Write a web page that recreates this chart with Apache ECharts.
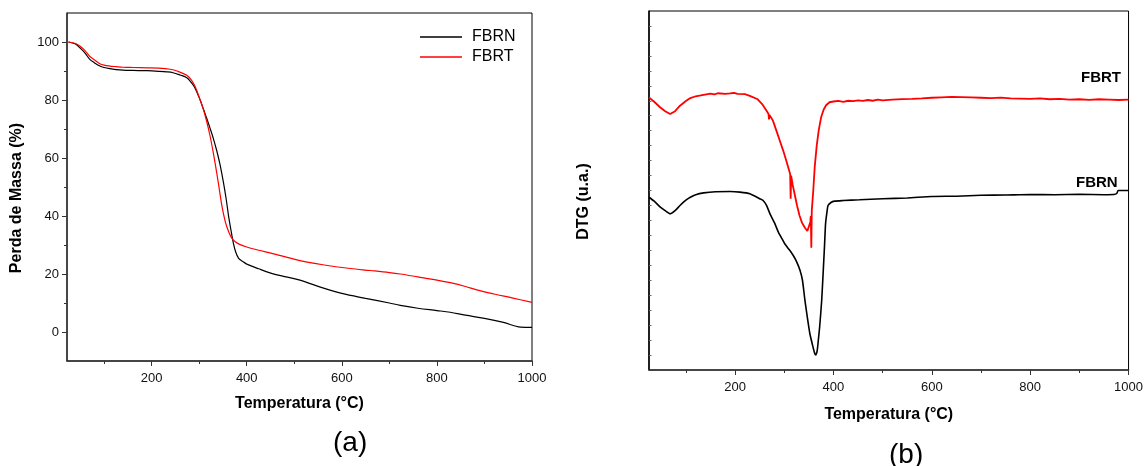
<!DOCTYPE html>
<html>
<head>
<meta charset="utf-8">
<script src="https://cdn.jsdelivr.net/npm/echarts@6/dist/echarts.min.js"></script>
<style>
html,body{margin:0;padding:0;background:#fff;}
#chart{width:1146px;height:466px;}
</style>
</head>
<body>
<div id="chart"></div>
<script>
// ---- (a) TGA: mass loss (%) vs temperature (°C) ----
var tgaTempFBRN = [25, 40, 49, 60, 70, 80, 91, 100, 112, 125, 140, 161, 190, 215, 232, 245, 260, 274, 281, 290, 302, 309, 316, 323, 330, 337, 344, 351, 357, 362, 367, 372, 377, 383, 390, 400, 425, 449, 480, 512, 560, 600, 650, 700, 723, 760, 800, 828, 860, 900, 940, 976, 1000];
var tgaMassFBRN = [100, 99.3, 98, 96.2, 94, 92.8, 91.7, 91.2, 90.8, 90.5, 90.3, 90.2, 90.1, 89.9, 89.7, 89.4, 88.6, 87.7, 86.5, 84.5, 80, 76.8, 73.6, 70.2, 66.6, 62.5, 57.6, 51.6, 45.6, 39.8, 35, 30.6, 27.5, 25.4, 24.5, 23.4, 21.8, 20.4, 19.1, 17.9, 15.2, 13.3, 11.6, 10.0, 9.2, 8.2, 7.4, 6.8, 5.8, 4.7, 3.3, 1.7, 1.6];
var tgaTempFBRT = [25, 40, 49, 60, 70, 80, 91, 100, 112, 125, 140, 161, 190, 215, 239, 255, 274, 283, 291, 300, 309, 316, 323, 330, 337, 343, 348, 355, 362, 369, 376, 385, 400, 425, 449, 480, 512, 560, 618, 660, 700, 723, 760, 800, 828, 860, 884, 920, 960, 1000];
var tgaMassFBRT = [100, 99.5, 98.6, 97, 95, 93.8, 92.5, 92.0, 91.7, 91.5, 91.3, 91.2, 91.1, 91.0, 90.6, 89.9, 88.5, 87, 84.8, 81, 76.7, 72.5, 67.5, 61.5, 54.8, 48.5, 43.3, 38.0, 34.6, 32.3, 31.1, 30.2, 29.3, 28.2, 27.3, 26.0, 24.6, 23.2, 21.9, 21.2, 20.5, 20.0, 19.0, 17.9, 17.0, 15.7, 14.5, 13.1, 11.7, 10.2];

// ---- (b) DTG (arbitrary units, offset curves) ----
var dtgTempFBRN = [25, 35, 48, 60, 68, 78, 88, 100, 109, 120, 136, 160, 190, 210, 230, 250, 257, 264, 271, 280, 288, 295, 301, 310, 318, 325, 332, 337, 342, 347, 352, 358, 362, 364, 367, 369, 372, 376, 379, 382, 384, 387, 389, 395, 402, 420, 453, 500, 550, 600, 650, 700, 750, 800, 850, 900, 950, 970, 976, 979, 1000];
var dtgFBRN = [11.55, 11.3, 10.89, 10.6, 10.44, 10.65, 11.0, 11.35, 11.55, 11.72, 11.84, 11.92, 11.93, 11.89, 11.78, 11.45, 11.33, 11.0, 10.44, 9.85, 9.22, 8.8, 8.44, 8.05, 7.67, 7.25, 6.67, 6.0, 4.67, 3.5, 2.44, 1.6, 1.1, 1.0, 1.3, 1.9, 2.89, 4.6, 6.44, 8.4, 9.78, 10.6, 11.0, 11.2, 11.29, 11.33, 11.38, 11.45, 11.5, 11.6, 11.62, 11.68, 11.7, 11.73, 11.72, 11.74, 11.72, 11.73, 11.8, 12.0, 12.0];
var dtgTempFBRT = [25, 35, 48, 58, 68, 78, 88, 100, 109, 120, 130, 136, 150, 158, 165, 180, 190, 198, 205, 220, 230, 245, 255, 264, 268, 269, 270, 277, 284, 291, 298, 304, 308, 312, 313, 314, 317, 321, 326, 331, 336, 342, 347, 350, 353, 354, 355, 356, 359, 362, 366, 370, 375, 380, 385, 392, 400, 410, 420, 430, 440, 450, 460, 470, 480, 490, 500, 520, 540, 560, 580, 600, 620, 640, 660, 680, 700, 720, 740, 760, 780, 800, 820, 840, 860, 880, 900, 920, 940, 960, 980, 1000];
var dtgFBRT = [18.22, 17.95, 17.55, 17.3, 17.11, 17.3, 17.67, 17.98, 18.18, 18.3, 18.36, 18.4, 18.47, 18.42, 18.5, 18.46, 18.49, 18.53, 18.46, 18.44, 18.33, 18.12, 17.78, 17.33, 17.11, 16.75, 17.05, 16.67, 16.0, 15.33, 14.65, 14.0, 13.55, 13.1, 11.45, 13.0, 12.4, 11.78, 11.0, 10.33, 9.85, 9.51, 9.29, 9.4, 9.9, 10.3, 8.18, 10.67, 12.0, 13.6, 15.0, 16.0, 16.9, 17.4, 17.7, 17.9, 17.95, 17.99, 17.93, 18.0, 17.97, 18.03, 17.99, 18.05, 18.0, 18.07, 18.03, 18.08, 18.11, 18.13, 18.16, 18.2, 18.23, 18.26, 18.24, 18.22, 18.2, 18.18, 18.21, 18.16, 18.14, 18.12, 18.16, 18.1, 18.13, 18.08, 18.1, 18.06, 18.1, 18.08, 18.05, 18.08];

// ---- axis ticks ----
var xMajorTicks = [200, 400, 600, 800, 1000];
var xMinorTicks = [100, 300, 500, 700, 900];
var yMajorTicksA = [0, 20, 40, 60, 80, 100];
var yMinorTicksA = [10, 30, 50, 70, 90];
var yTicksB = [1,2,3,4,5,6,7,8,9,10,11,12,13,14,15,16,17,18,19,20,21,22,23];

function zip(xs, ys){ return xs.map(function(x,i){ return [x, ys[i]]; }); }

var FONT = '"Liberation Sans", Arial, sans-serif';
var chart = echarts.init(document.getElementById('chart'), null, {renderer:'canvas'});

var axisColor = '#333';
var nameStyle = {fontFamily: FONT, fontWeight: 'bold', fontSize: 16, color: '#000'};
var yNameStyle = {fontFamily: FONT, fontWeight: 'bold', fontSize: 16, color: '#000', padding: [0, 22, 0, 0]};
function plain(v){ return String(v); }
var labelStyle = {fontFamily: FONT, fontSize: 13, color: '#111', formatter: plain};

chart.setOption({
  animation: false,
  backgroundColor: '#fff',
  grid: [
    {left: 67, top: 13, right: 614, bottom: 105, show: true, borderColor: '#000', borderWidth: 1, containLabel: false},
    {left: 649, top: 11, right: 16, bottom: 96, show: true, borderColor: '#000', borderWidth: 1, containLabel: false}
  ],
  legend: {
    data: ['FBRN', 'FBRT'],
    orient: 'vertical',
    left: 415, top: 24,
    icon: 'rect',
    itemWidth: 42, itemHeight: 1.3,
    itemGap: 4,
    textStyle: {fontFamily: FONT, fontSize: 16, color: '#000', padding: [0,0,0,5]}
  },
  xAxis: [
    {gridIndex: 0, type: 'value', position: 'bottom', min: 22, max: 1000,
     axisLine: {show: true, onZero: false, lineStyle: {color: axisColor, width: 1.5}},
     axisTick: {show: true, customValues: xMajorTicks, length: 5, lineStyle: {color: axisColor}},
     axisLabel: Object.assign({customValues: xMajorTicks, margin: 11}, labelStyle),
     splitLine: {show: false},
     name: 'Temperatura (°C)', nameLocation: 'middle', nameGap: 35, nameTextStyle: nameStyle},
    {gridIndex: 0, type: 'value', position: 'bottom', min: 22, max: 1000,
     axisLine: {show: false, onZero: false},
     axisTick: {show: true, customValues: xMinorTicks, length: 3, lineStyle: {color: axisColor}},
     axisLabel: {show: false}, splitLine: {show: false}},
    {gridIndex: 1, type: 'value', position: 'bottom', min: 25, max: 1000,
     axisLine: {show: true, onZero: false, lineStyle: {color: axisColor, width: 1.5}},
     axisTick: {show: true, customValues: xMajorTicks, length: 5, lineStyle: {color: axisColor}},
     axisLabel: Object.assign({customValues: xMajorTicks, margin: 11}, labelStyle),
     splitLine: {show: false},
     name: 'Temperatura (°C)', nameLocation: 'middle', nameGap: 37, nameTextStyle: nameStyle},
    {gridIndex: 1, type: 'value', position: 'bottom', min: 25, max: 1000,
     axisLine: {show: false, onZero: false},
     axisTick: {show: true, customValues: xMinorTicks, length: 3, lineStyle: {color: axisColor}},
     axisLabel: {show: false}, splitLine: {show: false}}
  ],
  yAxis: [
    {gridIndex: 0, type: 'value', position: 'left', min: -10, max: 110,
     axisLine: {show: true, onZero: false, lineStyle: {color: axisColor, width: 1.5}},
     axisTick: {show: true, customValues: yMajorTicksA, length: 5, lineStyle: {color: axisColor}},
     axisLabel: Object.assign({customValues: yMajorTicksA, margin: 8}, labelStyle),
     splitLine: {show: false},
     name: 'Perda de Massa (%)', nameLocation: 'middle', nameGap: 42, nameTextStyle: yNameStyle},
    {gridIndex: 0, type: 'value', position: 'left', min: -10, max: 110,
     axisLine: {show: false, onZero: false},
     axisTick: {show: true, customValues: yMinorTicksA, length: 3, lineStyle: {color: axisColor}},
     axisLabel: {show: false}, splitLine: {show: false}},
    {gridIndex: 1, type: 'value', position: 'left', min: 0, max: 24,
     axisLine: {show: true, onZero: false, lineStyle: {color: '#000', width: 1.5}},
     axisTick: {show: true, inside: true, customValues: yTicksB, length: 2.5, lineStyle: {color: '#666'}},
     axisLabel: {show: false},
     splitLine: {show: false},
     name: 'DTG (u.a.)', nameLocation: 'middle', nameGap: 57, nameTextStyle: yNameStyle}
  ],
  series: [
    {name: 'FBRN', type: 'line', xAxisIndex: 0, yAxisIndex: 0, data: zip(tgaTempFBRN, tgaMassFBRN),
     showSymbol: false, smooth: 0.35, color: '#000', lineStyle: {color: '#000', width: 1.2}},
    {name: 'FBRT', type: 'line', xAxisIndex: 0, yAxisIndex: 0, data: zip(tgaTempFBRT, tgaMassFBRT),
     showSymbol: false, smooth: 0.35, color: '#ff0000', lineStyle: {color: '#ff0000', width: 1.2}},
    {name: 'FBRN DTG', type: 'line', xAxisIndex: 2, yAxisIndex: 2, data: zip(dtgTempFBRN, dtgFBRN),
     showSymbol: false, smooth: 0.2, lineStyle: {color: '#000', width: 1.6}},
    {name: 'FBRT DTG', type: 'line', xAxisIndex: 2, yAxisIndex: 2, data: zip(dtgTempFBRT, dtgFBRT),
     showSymbol: false, smooth: false, lineStyle: {color: '#ff0000', width: 1.8}}
  ],
  graphic: [
    {type: 'text', left: 1125 - 44, top: 70, style: {text: 'FBRT', font: 'bold 15px ' + FONT, fill: '#000'}},
    {type: 'text', left: 1121 - 45, top: 175, style: {text: 'FBRN', font: 'bold 15px ' + FONT, fill: '#000'}},
    {type: 'text', left: 333, top: 429, style: {text: '(a)', font: '28px ' + FONT, fill: '#000'}},
    {type: 'text', left: 889, top: 441, style: {text: '(b)', font: '28px ' + FONT, fill: '#000'}}
  ]
});
</script>
</body>
</html>
